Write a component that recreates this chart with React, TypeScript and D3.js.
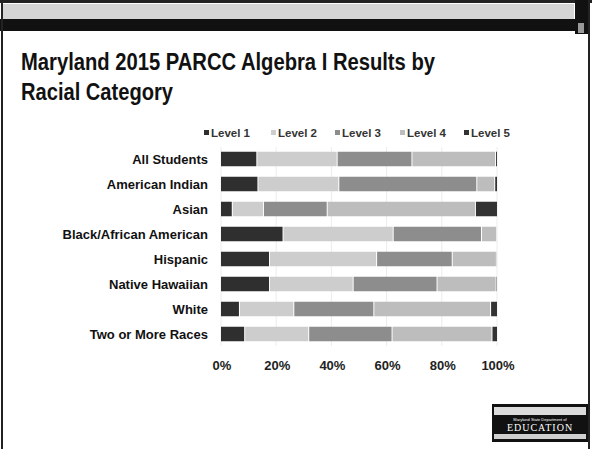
import React from "react";
import * as d3 from "d3";

const categories = [
  "All Students",
  "American Indian",
  "Asian",
  "Black/African American",
  "Hispanic",
  "Native Hawaiian",
  "White",
  "Two or More Races",
];
const levelNames = ["Level 1", "Level 2", "Level 3", "Level 4", "Level 5"];
const level1 = [12.8, 13.2, 3.9, 22.3, 17.4, 17.4, 6.5, 8.4];
const level2 = [29.1, 29.3, 11.3, 39.9, 38.8, 30.3, 19.7, 23.2];
const level3 = [27.1, 50.0, 23.1, 32.0, 27.4, 30.4, 29.0, 30.2];
const level4 = [30.3, 6.5, 53.7, 5.5, 16.0, 21.4, 42.3, 36.2];
const level5 = [0.7, 1.0, 8.0, 0.3, 0.4, 0.5, 2.5, 2.0];
const tickValues = [0, 20, 40, 60, 80, 100];
const levelColors = ["#2f2f2f", "#cdcdcd", "#8d8d8d", "#bdbdbd", "#333333"];

export default function App() {
  const W = 592, H = 449;
  const x = d3.scaleLinear().domain([0, 100]).range([221, 497]);
  const y = d3.scaleBand().domain(categories).range([146.5, 346.5]).paddingInner(0.42).paddingOuter(0.21);
  const rows = categories.map((c, i) => {
    const o: any = { cat: c };
    [level1, level2, level3, level4, level5].forEach((arr, k) => (o[levelNames[k]] = arr[i]));
    return o;
  });
  const series = d3.stack().keys(levelNames)(rows as any);
  const font = "'Liberation Sans', Arial, sans-serif";
  const legendX = [207, 274, 338, 403, 467];
  return (
    <svg width={W} height={H} style={{ position: "absolute", left: 0, top: 0 }} fontFamily={font}>
      <rect x={0} y={0} width={W} height={H} fill="#ffffff" />
      {/* frame */}
      <rect x={0} y={0} width={W} height={3} fill="#222" />
      <rect x={3} y={4} width={571} height={15} fill="#d4d4d4" />
      <rect x={0} y={19} width={577} height={12} fill="#111" />
      <rect x={575} y={0} width={14} height={34} fill="#111" />
      <rect x={578} y={23} width={6} height={10} fill="#999" />
      <rect x={1} y={0} width={2} height={H} fill="#222" />
      <rect x={588} y={0} width={2} height={H} fill="#222" />
      {/* title */}
      <text x={21} y={70} fontSize={23.5} fontWeight="bold" fill="#111" textLength={414} lengthAdjust="spacingAndGlyphs">
        Maryland 2015 PARCC Algebra I Results by
      </text>
      <text x={21} y={100} fontSize={23.5} fontWeight="bold" fill="#111" textLength={152} lengthAdjust="spacingAndGlyphs">
        Racial Category
      </text>
      {/* legend */}
      {levelNames.map((n, k) => (
        <g key={n}>
          <rect x={legendX[k] - 3} y={130} width={5} height={5} fill={levelColors[k]} />
          <text x={legendX[k] + 4} y={137} fontSize={11.5} fontWeight="bold" fill="#333">
            {n}
          </text>
        </g>
      ))}
      {/* gridlines */}
      {tickValues.map((t) => (
        <line key={t} x1={x(t)} x2={x(t)} y1={147} y2={346} stroke="#ececec" strokeWidth={1} />
      ))}
      {/* bars */}
      {series.map((s, k) => (
        <g key={s.key} fill={levelColors[k]}>
          {s.map((d: any, i: number) => {
            const w = x(d[1]) - x(d[0]);
            return (
              <rect
                key={i}
                x={x(d[0]) + (k > 0 ? 1 : 0)}
                y={y(categories[i])!}
                width={Math.max(0, w - (k > 0 ? 1 : 0))}
                height={y.bandwidth()}
              />
            );
          })}
        </g>
      ))}
      {/* category labels */}
      {categories.map((c) => (
        <text
          key={c}
          x={208}
          y={y(c)! + y.bandwidth() / 2 + 4.5}
          textAnchor="end"
          fontSize={13}
          fontWeight="bold"
          fill="#111"
        >
          {c}
        </text>
      ))}
      {/* ticks */}
      {tickValues.map((t) => (
        <text key={t} x={x(t) + 1} y={370} textAnchor="middle" fontSize={13} fontWeight="bold" fill="#222">
          {t + "%"}
        </text>
      ))}
      {/* logo */}
      <rect x={492} y={404} width={96} height={38} fill="#111" />
      <rect x={494} y={407} width={92} height={8} fill="#fff" opacity={0.85} />
      <text x={540} y={421} textAnchor="middle" fontSize={4} fill="#fff">Maryland State Department of</text>
      <text x={540} y={431} textAnchor="middle" fontSize={10} fill="#fff" fontFamily="'Liberation Serif', serif" letterSpacing={1}>EDUCATION</text>
      <rect x={494} y={434} width={92} height={5} fill="#fff" opacity={0.8} />
    </svg>
  );
}
